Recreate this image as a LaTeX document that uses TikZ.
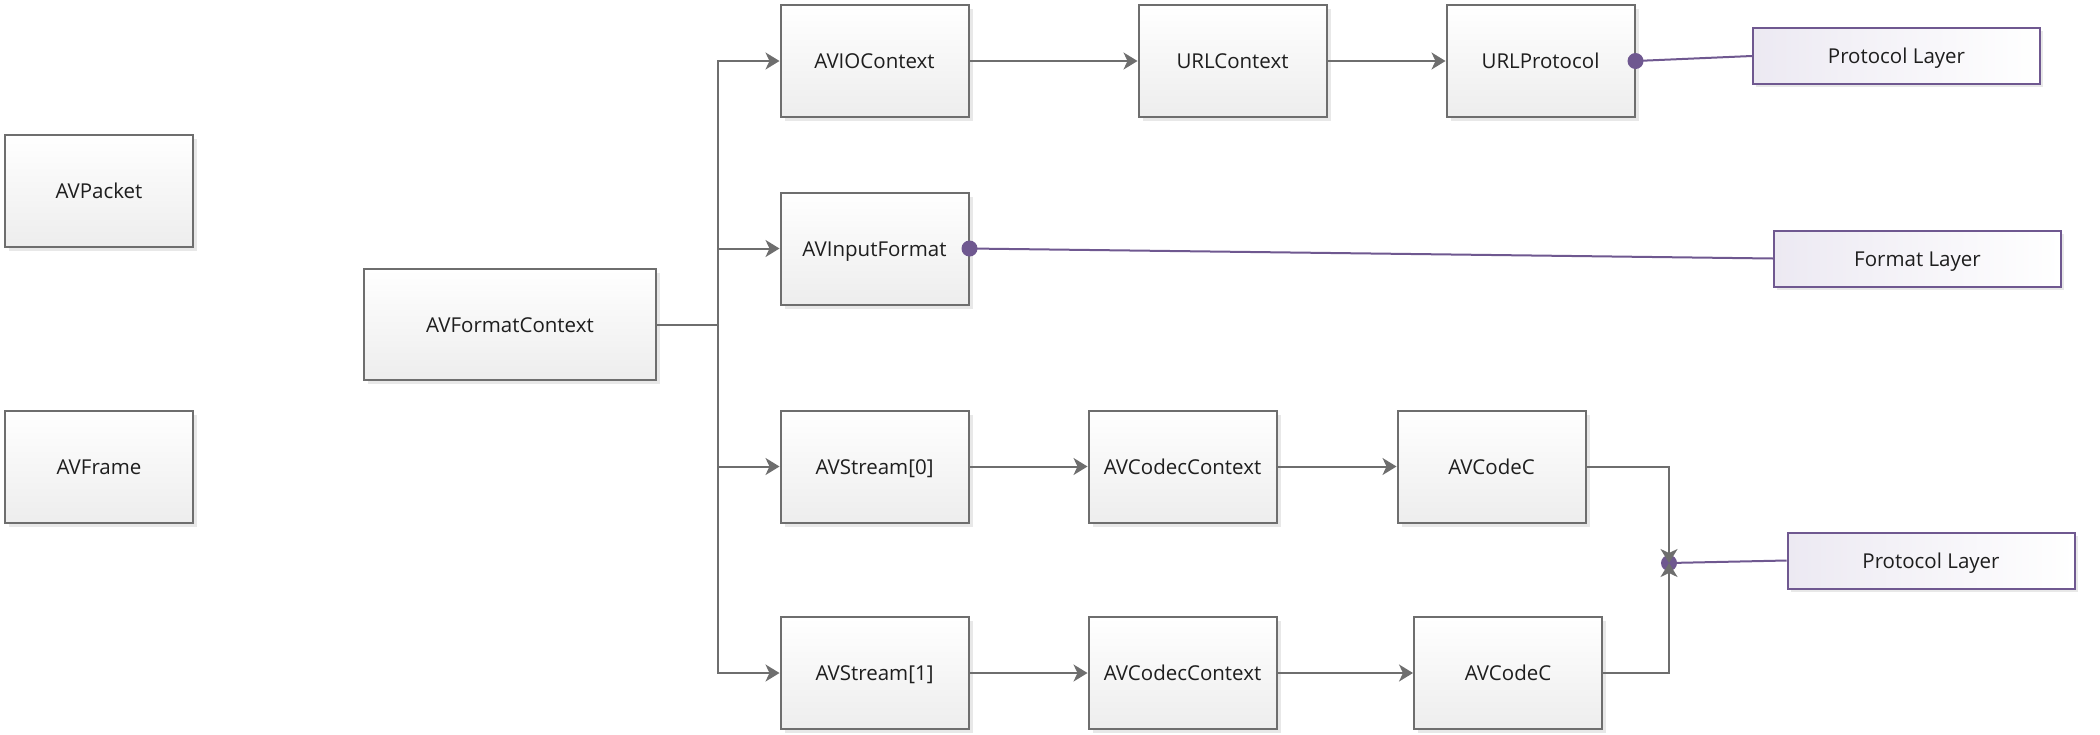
\documentclass[tikz,border=0pt]{standalone}
\usepackage{fontspec}
\setmainfont{Open Sans}
\usetikzlibrary{arrows.meta,shadows}
\definecolor{lineg}{HTML}{6E6E6E}
\definecolor{boxb}{HTML}{6E6E6E}
\definecolor{purp}{HTML}{6F5890}
\definecolor{lav}{HTML}{ECE9F2}
\definecolor{txt}{HTML}{1E1E1E}
\tikzset{
  box/.style={draw=boxb, line width=2pt, top color=white, bottom color=black!7,
    minimum width=188pt, minimum height=112pt, inner sep=0pt, text=txt,
    font=\fontsize{20.5}{24}\selectfont, text height=20pt, text depth=5pt,
    drop shadow={shadow xshift=4pt, shadow yshift=-4pt, fill=black!9, opacity=1}},
  layer/.style={draw=purp, line width=2pt, left color=lav, right color=white,
    minimum width=287pt, minimum height=56pt, inner sep=0pt, text=txt,
    font=\fontsize{20.5}{24}\selectfont, text height=20pt, text depth=5pt,
    drop shadow={shadow xshift=3pt, shadow yshift=-3pt, fill=black!9, opacity=1}},
  arr/.style={draw=lineg, line width=2pt, -{Stealth[length=14pt,width=17pt,inset=4pt]}},
  ln/.style={draw=lineg, line width=2pt},
  pl/.style={draw=purp, line width=2pt},
  dot/.style={circle, fill=purp, minimum size=16pt, inner sep=0pt}
}
\begin{document}
\begin{tikzpicture}[x=1pt,y=-1pt]
\useasboundingbox (0,0) rectangle (2100,734);
% left boxes
\node[box] (pkt) at (99,190.5) {AVPacket};
\node[box] (frm) at (99,466.5) {AVFrame};
\node[box, minimum width=292pt, minimum height=111pt] (fc) at (510,324.5) {AVFormatContext};
% row 1
\node[box] (avio) at (874.5,61) {AVIOContext};
\node[box] (urlc) at (1232.5,61) {URLContext};
\node[box] (urlp) at (1540.5,61) {URLProtocol};
\node[layer] (pl1) at (1896.5,56) {Protocol Layer};
% row 2
\node[box] (avin) at (874.5,248.5) {AVInputFormat};
\node[layer] (fl) at (1917.5,258.5) {Format Layer};
% row 3
\node[box] (st0) at (874.5,466.5) {AVStream[0]};
\node[box] (cc0) at (1182.5,466.5) {AVCodecContext};
\node[box] (cd0) at (1491.5,466.5) {AVCodeC};
% row 4
\node[box] (st1) at (874.5,673) {AVStream[1]};
\node[box] (cc1) at (1182.5,673) {AVCodecContext};
\node[box] (cd1) at (1508,673) {AVCodeC};
\node[layer] (pl2) at (1931,560.5) {Protocol Layer};
% trunk
\coordinate (t) at (718,324.5);
\draw[ln] (fc.east) -- (t);
\draw[arr] (t) |- (avio.west);
\draw[arr] (t) |- (avin.west);
\draw[arr] (t) |- (st0.west);
\draw[arr] (t) |- (st1.west);
% chains
\draw[arr] (avio) -- (urlc);
\draw[arr] (urlc) -- (urlp);
\draw[arr] (st0) -- (cc0);
\draw[arr] (cc0) -- (cd0);
\draw[arr] (st1) -- (cc1);
\draw[arr] (cc1) -- (cd1);
% purple links
\node[dot] (d1) at (urlp.east) {};
\draw[pl] (d1.center) -- (pl1.west);
\node[dot] (d2) at (avin.east) {};
\draw[pl] (d2.center) -- (fl.west);
\coordinate (j) at (1669,563);
\node[dot] (d3) at (j) {};
\draw[pl] (d3.center) -- (pl2.west);
% merge
\draw[arr] (cd0.east) -| (j);
\draw[arr] (cd1.east) -| (j);
\end{tikzpicture}
\end{document}
